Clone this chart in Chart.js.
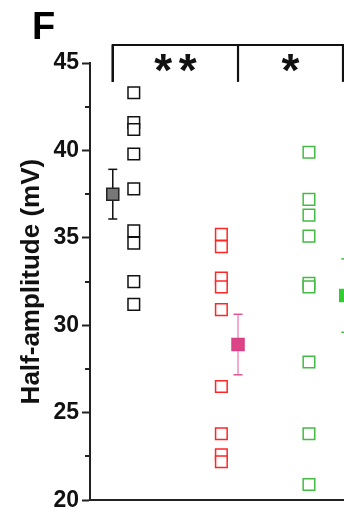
<!DOCTYPE html>
<html>
<head>
<meta charset="utf-8">
<script src="https://cdn.jsdelivr.net/npm/chart.js@4"></script>
<style>
  html, body { margin: 0; padding: 0; background: #fff; overflow: hidden; }
  canvas { display: block; }
</style>
</head>
<body>
<canvas id="ampChart" width="344" height="517"></canvas>
<script>
// group positions on the x scale (individual cells), and offsets of the mean markers
const groupX = [1, 2, 3];
const meanOffset = [-0.24, 0.19, 0.42];

// half-amplitude values (mV)
const blackValues = [43.3, 41.6, 41.2, 39.8, 37.8, 35.4, 34.7, 32.5, 31.2];
const redValues = [35.2, 34.5, 32.7, 32.2, 30.9, 26.5, 23.8, 22.6, 22.2];
const greenValues = [39.9, 37.2, 36.3, 35.1, 32.4, 32.2, 27.9, 23.8, 20.9];

// mean +/- SEM
const meanValues = [37.5, 28.9, 31.7];
const semValues = [1.42, 1.73, 2.1];

// y axis
const yMin = 20;
const yMax = 45;
const yStep = 2.5;

// significance marks between groups
const sigLabels = ['**', '*'];

const pointColors = ['#111111', '#ff2626', '#44bb44'];
const meanFill = ['#777777', '#dd4488', '#33cc33'];
const meanBorder = ['#222222', '#d64185', '#33cc33'];
const barColor = ['#111111', '#ee92bd', '#44bb44'];
const capColor = ['#111111', '#dd5595', '#44bb44'];

const FONT = "'Liberation Sans', Arial, Helvetica, sans-serif";

const allValues = [blackValues, redValues, greenValues];
const datasets = [];

allValues.forEach((vals, i) => {
  datasets.push({
    data: vals.map(v => ({ x: groupX[i], y: v })),
    pointStyle: 'rect',
    pointRadius: 8.2,
    pointBorderWidth: 1.5,
    pointBorderColor: pointColors[i],
    pointBackgroundColor: '#ffffff',
    showLine: false,
    clip: false,
    order: 3
  });
});

meanValues.forEach((m, i) => {
  const mx = groupX[i] + meanOffset[i];
  // error bar
  datasets.push({
    data: [{ x: mx, y: m + semValues[i] }, { x: mx, y: m - semValues[i] }],
    showLine: true,
    borderColor: barColor[i],
    borderWidth: 1.5,
    pointStyle: 'line',
    pointRadius: 4.5,
    pointBorderWidth: 1.5,
    pointBorderColor: capColor[i],
    clip: false,
    order: 2
  });
  // mean marker
  datasets.push({
    data: [{ x: mx, y: m }],
    pointStyle: 'rect',
    pointRadius: 8.5,
    pointBorderWidth: 1.5,
    pointBorderColor: meanBorder[i],
    pointBackgroundColor: meanFill[i],
    showLine: false,
    clip: false,
    order: 1
  });
});

// short minor ticks on the y axis, bracket with stars, panel letter
const extrasPlugin = {
  id: 'extras',
  afterDraw(chart) {
    const ctx = chart.ctx;
    const xs = chart.scales.x;
    const ys = chart.scales.y;
    const left = chart.chartArea.left;

    ctx.save();
    ctx.strokeStyle = '#222';
    ctx.lineWidth = 2;
    for (let v = yMin + yStep; v < yMax; v += 2 * yStep) {
      const py = Math.round(ys.getPixelForValue(v));
      ctx.beginPath();
      ctx.moveTo(left - 5, py);
      ctx.lineTo(left, py);
      ctx.stroke();
    }

    // bracket over the groups
    const legs = meanValues.map((m, i) => xs.getPixelForValue(groupX[i] + meanOffset[i]));
    legs[2] = Math.min(legs[2], chart.width - 1);
    const topY = ys.getPixelForValue(46.03);
    const legY = ys.getPixelForValue(43.92);
    ctx.strokeStyle = '#111';
    ctx.lineWidth = 2.2;
    ctx.beginPath();
    ctx.moveTo(legs[0], legY);
    ctx.lineTo(legs[0], topY);
    ctx.lineTo(legs[2] + 2, topY);
    ctx.stroke();
    legs.forEach(lx => {
      ctx.beginPath();
      ctx.moveTo(lx, topY);
      ctx.lineTo(lx, legY);
      ctx.stroke();
    });

    ctx.fillStyle = '#111';
    ctx.font = 'bold 46px ' + FONT;
    ctx.textAlign = 'center';
    ctx.textBaseline = 'middle';
    const starY = ys.getPixelForValue(44.43);
    sigLabels.forEach((lab, i) => {
      const cx = (legs[i] + legs[i + 1]) / 2;
      const n = lab.length;
      for (let k = 0; k < n; k++) {
        ctx.fillText('*', cx + (k - (n - 1) / 2) * 24.5, starY);
      }
    });

    ctx.font = 'bold 38px ' + FONT;
    ctx.textAlign = 'left';
    ctx.textBaseline = 'alphabetic';
    ctx.fillStyle = '#000';
    ctx.fillText('F', 32, 39);
    ctx.restore();
  }
};

new Chart(document.getElementById('ampChart').getContext('2d'), {
  type: 'scatter',
  data: { datasets: datasets },
  options: {
    responsive: false,
    animation: false,
    events: [],
    layout: { autoPadding: false, padding: { top: 63, left: 0, right: 0, bottom: 0 } },
    plugins: {
      legend: { display: false },
      tooltip: { enabled: false },
      title: { display: false }
    },
    scales: {
      x: {
        type: 'linear',
        min: 0.5,
        max: 3.4,
        ticks: { display: false },
        grid: { display: false },
        border: { display: true, color: '#222', width: 2 },
        afterFit: (scale) => { scale.height = 16; }
      },
      y: {
        type: 'linear',
        min: yMin,
        max: yMax,
        ticks: {
          stepSize: yStep,
          color: '#111',
          padding: 3,
          font: { family: FONT, size: 23, weight: 'bold' },
          callback: (v) => (v % 5 === 0 ? v : '')
        },
        grid: {
          drawOnChartArea: false,
          drawTicks: true,
          tickLength: 8,
          tickWidth: 2,
          tickColor: (c) => (c.tick && c.tick.value % 5 === 0 ? '#222' : 'rgba(0,0,0,0)')
        },
        border: { display: true, color: '#222', width: 2 },
        title: {
          display: true,
          text: 'Half-amplitude (mV)',
          color: '#111',
          font: { family: FONT, size: 26, weight: 'bold' },
          padding: { top: 16, bottom: 0 }
        },
        afterFit: (scale) => { scale.width = 90; }
      }
    }
  },
  plugins: [extrasPlugin]
});
</script>
</body>
</html>
